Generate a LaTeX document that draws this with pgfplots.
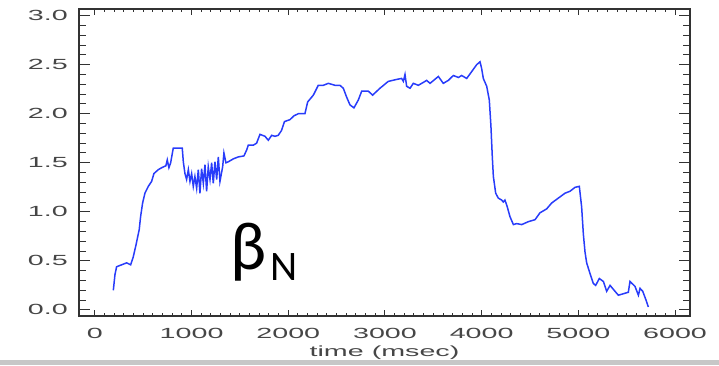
\documentclass[border=0pt]{standalone}
\usepackage{fontspec}
\usepackage{graphicx}
\usepackage{pgfplots}
\pgfplotsset{compat=1.18}
\newfontfamily\idl{Liberation Sans}
\newfontfamily\calfont{Carlito}
\newcommand\hl[1]{\scalebox{1.95}[1]{\fontsize{14.7bp}{16bp}\selectfont\idl #1}}
\definecolor{linecol}{RGB}{40,60,250}
\definecolor{axcol}{RGB}{50,50,50}
\definecolor{labcol}{RGB}{70,70,70}
\begin{document}
\begin{tikzpicture}[x=1bp,y=1bp]
\path[use as bounding box] (0,0) rectangle (719,365);
\fill[black!22] (0,0) rectangle (719,5);
% x ticks axis
\begin{axis}[at={(79bp,49bp)}, anchor=south west, scale only axis,
  width=611bp, height=307bp,
  xmin=-165, xmax=6155, ymin=-0.062, ymax=3.068,
  ytick=\empty,
  xtick={0,1000,2000,3000,4000,5000,6000},
  xticklabels={\hl{0},\hl{1000},\hl{2000},\hl{3000},\hl{4000},\hl{5000},\hl{6000}},
  minor x tick num=9,
  major tick length=6bp, minor tick length=3.5bp,
  tick align=inside,
  xtick pos=both,
  axis line style={draw=axcol, line width=1.3bp},
  every tick/.style={draw=axcol, line width=1bp},
  xticklabel style={inner sep=0pt, anchor=north, yshift=-12bp, text=labcol},
  xlabel={\hl{time (msec)}},
  xlabel style={inner sep=0pt, anchor=center, at={(0.5,0)}, yshift=-37bp, text=labcol},
]
\end{axis}
% y ticks axis with data
\begin{axis}[at={(79bp,49bp)}, anchor=south west, scale only axis,
  width=611bp, height=307bp,
  xmin=-165, xmax=6155, ymin=-0.062, ymax=3.068,
  xtick=\empty,
  ytick={0,0.5,1,1.5,2,2.5,3},
  yticklabels={\hl{0.0},\hl{0.5},\hl{1.0},\hl{1.5},\hl{2.0},\hl{2.5},\hl{3.0}},
  minor y tick num=4,
  major tick length=11bp, minor tick length=7bp,
  tick align=inside,
  ytick pos=both,
  axis line style={draw=axcol, line width=1.3bp},
  every tick/.style={draw=axcol, line width=1bp},
  yticklabel style={inner sep=0pt, anchor=east, xshift=-11bp, text=labcol},
]
\addplot[color=linecol, line width=1.5bp, mark=none] coordinates {
(190,0.20)(207,0.36)(224,0.44)(276,0.46)(328,0.48)(369,0.46)(396,0.54)(424,0.66)(458,0.82)(472,0.95)(493,1.09)(517,1.19)(552,1.26)(586,1.31)(610,1.39)(655,1.43)(690,1.45)(734,1.47)(748,1.53)(765,1.45)(783,1.50)(810,1.65)(862,1.65)(903,1.65)(914,1.51)(931,1.39)(948,1.33)(966,1.43)(983,1.31)(1000,1.39)(1017,1.26)(1034,1.36)(1052,1.24)(1069,1.43)(1086,1.19)(1103,1.44)(1121,1.29)(1138,1.48)(1155,1.21)(1172,1.46)(1190,1.33)(1207,1.50)(1224,1.29)(1241,1.51)(1259,1.33)(1276,1.56)(1293,1.31)(1321,1.46)(1334,1.60)(1355,1.50)(1379,1.51)(1431,1.54)(1483,1.56)(1541,1.57)(1569,1.63)(1586,1.68)(1638,1.68)(1672,1.70)(1707,1.79)(1759,1.77)(1793,1.73)(1828,1.78)(1862,1.77)(1896,1.78)(1930,1.83)(1960,1.92)(2017,1.94)(2060,1.98)(2103,2.00)(2172,2.00)(2200,2.12)(2259,2.19)(2310,2.29)(2362,2.29)(2414,2.31)(2483,2.29)(2534,2.29)(2569,2.26)(2603,2.17)(2638,2.09)(2679,2.06)(2724,2.14)(2759,2.23)(2828,2.23)(2872,2.19)(2948,2.26)(3034,2.33)(3121,2.35)(3172,2.36)(3190,2.33)(3207,2.40)(3224,2.28)(3259,2.26)(3293,2.31)(3345,2.29)(3397,2.32)(3431,2.34)(3466,2.31)(3552,2.38)(3603,2.31)(3655,2.34)(3707,2.39)(3759,2.37)(3793,2.39)(3845,2.36)(3897,2.43)(3948,2.50)(3983,2.53)(4000,2.46)(4017,2.36)(4052,2.28)(4079,2.14)(4096,1.87)(4110,1.56)(4121,1.36)(4145,1.19)(4172,1.14)(4207,1.12)(4224,1.10)(4241,1.12)(4265,1.05)(4293,0.95)(4328,0.87)(4362,0.88)(4414,0.87)(4483,0.90)(4552,0.92)(4603,0.99)(4672,1.03)(4724,1.09)(4793,1.14)(4862,1.19)(4914,1.21)(4966,1.25)(5010,1.26)(5034,1.05)(5052,0.77)(5069,0.59)(5086,0.48)(5121,0.37)(5155,0.27)(5179,0.25)(5217,0.32)(5259,0.29)(5293,0.19)(5328,0.25)(5379,0.19)(5414,0.15)(5517,0.18)(5534,0.29)(5586,0.24)(5621,0.15)(5638,0.22)(5666,0.19)(5700,0.10)(5724,0.03)
};
\end{axis}
\node[anchor=base west, inner sep=0pt, font={\fontsize{68bp}{68bp}\selectfont\calfont}] at (230,96) {β};
\node[anchor=base west, inner sep=0pt, font={\fontsize{42bp}{42bp}\selectfont\calfont}] at (270,85) {N};
\end{tikzpicture}
\end{document}
